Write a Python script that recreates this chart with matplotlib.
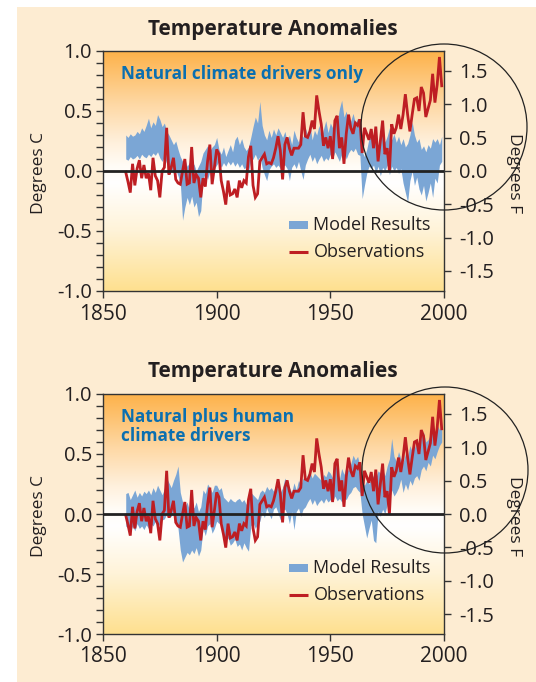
import numpy as np
import matplotlib
matplotlib.use('Agg')
import matplotlib.pyplot as plt
from matplotlib.colors import LinearSegmentedColormap
from matplotlib.patches import Rectangle, Circle
from matplotlib.ticker import MultipleLocator, FormatStrFormatter

# ---------------- data ----------------
years = np.arange(1860, 2000)

observations = [
    -0.01, -0.09, -0.18, 0.06, -0.12, 0.02, 0.09, -0.06, 0.05, -0.06,
    -0.02, -0.16, 0.11, -0.04, -0.08, -0.22, 0.00, 0.03, 0.36, -0.03,
    0.03, 0.11, -0.07, -0.10, -0.11, 0.00, 0.10, -0.11, -0.10, 0.20,
    -0.10, -0.03, -0.06, -0.22, -0.06, -0.13, 0.08, 0.22, -0.11, 0.03,
    0.18, 0.14, -0.08, -0.17, -0.28, -0.08, -0.20, -0.19, -0.15, -0.22,
    -0.08, -0.14, -0.08, -0.10, 0.12, 0.21, -0.12, -0.22, -0.19, 0.08,
    0.11, 0.14, 0.06, 0.07, 0.06, 0.11, 0.19, 0.29, 0.17, -0.07,
    0.22, 0.28, 0.19, 0.13, 0.19, 0.19, 0.19, 0.22, 0.49, 0.29,
    0.28, 0.33, 0.42, 0.35, 0.63, 0.50, 0.39, 0.21, 0.28, 0.19,
    0.29, 0.10, 0.42, 0.46, 0.19, 0.28, 0.06, 0.31, 0.47, 0.36,
    0.31, 0.40, 0.38, 0.43, 0.15, 0.36, 0.31, 0.26, 0.35, 0.19,
    0.37, 0.08, 0.25, 0.42, 0.14, 0.19, 0.00, 0.39, 0.31, 0.36,
    0.47, 0.35, 0.47, 0.64, 0.47, 0.33, 0.47, 0.60, 0.61, 0.50,
    0.70, 0.65, 0.45, 0.52, 0.59, 0.81, 0.57, 0.72, 0.95, 0.71,
]

natural_hi = [
    0.30, 0.28, 0.31, 0.29, 0.30, 0.33, 0.31, 0.36, 0.33, 0.38,
    0.44, 0.36, 0.41, 0.38, 0.47, 0.43, 0.37, 0.40, 0.33, 0.30,
    0.26, 0.22, 0.25, 0.18, 0.12, 0.08, 0.10, 0.04, 0.07, 0.02,
    0.06, 0.00, 0.04, 0.08, 0.15, 0.18, 0.21, 0.17, 0.20, 0.22,
    0.28, 0.18, 0.14, 0.20, 0.12, 0.17, 0.22, 0.16, 0.26, 0.29,
    0.22, 0.27, 0.20, 0.17, 0.20, 0.28, 0.37, 0.45, 0.40, 0.58,
    0.38, 0.30, 0.26, 0.34, 0.28, 0.35, 0.30, 0.36, 0.32, 0.28,
    0.33, 0.25, 0.30, 0.22, 0.34, 0.28, 0.24, 0.32, 0.28, 0.36,
    0.30, 0.39, 0.26, 0.34, 0.30, 0.38, 0.28, 0.35, 0.42, 0.32,
    0.40, 0.36, 0.46, 0.40, 0.52, 0.59, 0.45, 0.50, 0.38, 0.42,
    0.48, 0.40, 0.44, 0.36, 0.16, 0.12, 0.18, 0.27, 0.33, 0.22,
    0.30, 0.19, 0.27, 0.33, 0.24, 0.29, 0.36, 0.26, 0.31, 0.24,
    0.29, 0.22, 0.27, 0.20, 0.23, 0.30, 0.41, 0.30, 0.24, 0.27,
    0.18, 0.21, 0.16, 0.22, 0.19, 0.27, 0.24, 0.27, 0.22, 0.29,
]

natural_lo = [
    0.10, 0.09, 0.12, 0.10, 0.11, 0.13, 0.10, 0.14, 0.12, 0.11,
    0.14, 0.12, 0.15, 0.13, 0.16, 0.11, 0.08, 0.12, 0.06, 0.04,
    0.02, -0.02, 0.01, -0.04, -0.10, -0.41, -0.30, -0.22, -0.28, -0.21,
    -0.30, -0.26, -0.38, -0.33, -0.06, -0.02, -0.07, 0.00, -0.05, 0.02,
    0.05, 0.08, 0.03, 0.07, 0.04, 0.08, 0.05, 0.08, 0.04, 0.07,
    0.03, 0.06, 0.02, 0.03, 0.00, 0.08, 0.10, 0.14, 0.09, 0.12,
    0.03, -0.03, -0.08, 0.01, 0.04, 0.06, 0.03, 0.05, 0.02, 0.04,
    0.05, 0.02, -0.08, 0.03, 0.06, 0.02, 0.08, 0.00, -0.07, 0.05,
    0.10, 0.14, 0.08, 0.12, 0.06, 0.10, 0.13, 0.08, 0.11, 0.09,
    0.14, 0.10, 0.16, 0.12, 0.08, 0.14, 0.16, 0.10, 0.15, 0.18,
    0.16, 0.19, 0.14, 0.13, -0.23, -0.12, -0.02, 0.04, 0.02, 0.05,
    -0.02, 0.04, -0.04, 0.03, 0.00, 0.05, -0.03, 0.04, 0.00, 0.03,
    -0.02, 0.02, -0.10, -0.18, -0.26, -0.08, 0.00, -0.12, -0.05, -0.15,
    -0.20, -0.12, -0.25, -0.18, -0.10, -0.22, -0.06, -0.10, 0.05, 0.08,
]

combined_hi = [
    0.17, 0.18, 0.12, 0.16, 0.20, 0.14, 0.18, 0.15, 0.19, 0.17,
    0.20, 0.16, 0.22, 0.18, 0.24, 0.20, 0.16, 0.21, 0.30, 0.26,
    0.22, 0.28, 0.33, 0.40, 0.18, 0.10, 0.06, 0.10, 0.03, 0.08,
    0.05, 0.10, 0.02, 0.06, 0.20, 0.17, 0.25, 0.22, 0.18, 0.24,
    0.24, 0.20, 0.22, 0.14, 0.12, 0.10, 0.13, 0.11, 0.10, 0.12,
    0.13, 0.10, 0.12, 0.08, 0.15, 0.18, 0.16, 0.14, 0.12, 0.18,
    0.20, 0.18, 0.23, 0.20, 0.22, 0.19, 0.24, 0.21, 0.18, 0.22,
    0.30, 0.24, 0.22, 0.18, 0.26, 0.20, 0.28, 0.24, 0.30, 0.28,
    0.33, 0.35, 0.30, 0.34, 0.32, 0.30, 0.28, 0.33, 0.31, 0.36,
    0.34, 0.30, 0.43, 0.36, 0.29, 0.38, 0.33, 0.40, 0.36, 0.42,
    0.49, 0.45, 0.48, 0.40, 0.26, 0.24, 0.28, 0.25, 0.30, 0.32,
    0.30, 0.36, 0.34, 0.37, 0.32, 0.40, 0.46, 0.63, 0.48, 0.44,
    0.52, 0.46, 0.43, 0.50, 0.48, 0.57, 0.52, 0.55, 0.60, 0.57,
    0.64, 0.68, 0.60, 0.62, 0.66, 0.72, 0.68, 0.74, 0.70, 0.76,
]

combined_lo = [
    -0.10, -0.12, -0.15, -0.10, -0.14, -0.08, -0.12, -0.10, -0.13, -0.09,
    -0.12, -0.08, -0.10, -0.06, -0.11, -0.08, -0.05, -0.04, 0.00, -0.03,
    -0.02, 0.02, -0.05, -0.12, -0.30, -0.40, -0.36, -0.32, -0.34, -0.30,
    -0.33, -0.28, -0.35, -0.30, -0.12, -0.18, -0.10, -0.08, -0.16, -0.12,
    -0.06, -0.08, -0.05, -0.18, -0.22, -0.20, -0.26, -0.24, -0.21, -0.27,
    -0.25, -0.30, -0.24, -0.28, -0.31, -0.10, -0.07, -0.12, -0.08, -0.06,
    0.02, -0.03, 0.05, 0.00, -0.04, 0.04, 0.06, 0.01, -0.05, 0.03,
    0.04, 0.00, -0.08, 0.02, -0.13, 0.02, 0.05, -0.02, 0.04, 0.06,
    0.10, 0.13, 0.08, 0.12, 0.07, 0.10, 0.12, 0.09, 0.13, 0.10,
    0.12, 0.10, 0.15, 0.11, 0.13, 0.10, 0.14, 0.12, 0.16, 0.18,
    0.22, 0.23, 0.20, 0.18, 0.00, -0.10, -0.20, -0.12, -0.05, -0.22,
    -0.24, 0.02, -0.02, 0.04, 0.00, 0.08, 0.12, 0.20, 0.15, 0.18,
    0.22, 0.29, 0.18, 0.25, 0.20, 0.28, 0.24, 0.30, 0.32, 0.28,
    0.37, 0.40, 0.36, 0.43, 0.40, 0.49, 0.46, 0.52, 0.57, 0.60,
]

title_text = "Temperature Anomalies"
panel_labels = ["Natural climate drivers only", "Natural plus human\nclimate drivers"]
legend_labels = ["Model Results", "Observations"]
x_ticks = [1850, 1900, 1950, 2000]
c_ticks = [-1.0, -0.5, 0.0, 0.5, 1.0]
f_ticks = [-1.5, -1.0, -0.5, 0.0, 0.5, 1.0, 1.5]

# ---------------- style ----------------
plt.rcParams['font.family'] = ['Open Sans', 'DejaVu Sans']
plt.rcParams['axes.unicode_minus'] = False

W, H = 536, 682
BLUE = '#7ba6d5'
RED = '#be1e23'
TXT = '#231f20'
LABEL_BLUE = '#0b6fb0'
SPINE = '#333333'

fig = plt.figure(figsize=(W / 100, H / 100), dpi=100)
fig.patch.set_facecolor('white')
fig.add_artist(Rectangle((17 / W, 0), 1 - 17 / W, 1 - 7 / H, transform=fig.transFigure,
                         facecolor='#fdecd2', edgecolor='none', zorder=-10))

cmap = LinearSegmentedColormap.from_list('bg', [
    (0.00, '#fee08f'), (0.25, '#fff3d8'), (0.45, '#ffffff'), (0.52, '#fffcf6'),
    (0.62, '#fff0dc'), (0.78, '#fed8a4'), (1.00, '#fdb24a')])
grad = np.linspace(0, 1, 256).reshape(-1, 1)


def c_to_f(c):
    return c * 1.8


def draw_panel(top_px, lo, hi, label, title_y, circle_xy):
    ax = fig.add_axes([103 / W, 1 - (top_px + 240) / H, 341 / W, 240 / H])
    ax.imshow(grad, extent=[1850, 2000, -1, 1], aspect='auto', cmap=cmap,
              origin='lower', zorder=0, interpolation='bicubic')
    ax.fill_between(years, lo, hi, color=BLUE, lw=0, zorder=2)
    ax.plot(years, observations, color=RED, lw=2.0, zorder=4, solid_joinstyle='miter')
    ax.axhline(0, color='#222222', lw=2.0, zorder=5)
    ax.set_xlim(1850, 2000)
    ax.set_ylim(-1, 1)

    ax.set_xticks(x_ticks)
    ax.set_yticks(c_ticks)
    ax.yaxis.set_minor_locator(MultipleLocator(0.1))
    ax.yaxis.set_major_formatter(FormatStrFormatter('%.1f'))
    ax.tick_params(axis='y', which='both', direction='out', length=5, width=1,
                   color=SPINE, labelsize=14.5, pad=3, labelcolor=TXT)
    ax.tick_params(axis='x', direction='out', length=5, width=1, color=SPINE,
                   labelsize=15, pad=4, labelcolor=TXT)
    for s in ax.spines.values():
        s.set_color(SPINE)
        s.set_linewidth(1.0)

    ax2 = ax.twinx()
    ax2.set_ylim(c_to_f(-1), c_to_f(1))
    ax2.set_yticks(f_ticks)
    ax2.yaxis.set_major_formatter(FormatStrFormatter('%.1f'))
    ax2.tick_params(axis='y', direction='out', length=5, width=1, color=SPINE,
                    labelsize=14.5, pad=6, labelcolor=TXT)
    for s in ax2.spines.values():
        s.set_visible(False)

    ax.text(0.052, 0.94, label, transform=ax.transAxes, ha='left', va='top',
            fontsize=12.4, fontweight='bold', color=LABEL_BLUE, linespacing=1.05)

    # legend
    ax.add_patch(Rectangle((0.545, 0.275 - 0.018), 0.055, 0.036, transform=ax.transAxes,
                           facecolor=BLUE, edgecolor='none', zorder=6))
    ax.plot([0.545, 0.600], [0.1625, 0.1625], transform=ax.transAxes, color=RED,
            lw=2.2, zorder=6, solid_capstyle='butt')
    ax.text(0.617, 0.275, legend_labels[0], transform=ax.transAxes, va='center',
            ha='left', fontsize=13, color=TXT, zorder=6)
    ax.text(0.617, 0.1625, legend_labels[1], transform=ax.transAxes, va='center',
            ha='left', fontsize=13, color=TXT, zorder=6)

    cy = (top_px + 120)
    fig.text(39 / W, 1 - (cy + 2) / H, 'Degrees C', rotation=90, ha='center',
             va='center', fontsize=12.5, color=TXT)
    fig.text(514 / W, 1 - (cy + 2) / H, 'Degrees F', rotation=-90, ha='center',
             va='center', fontsize=12.5, color=TXT)
    fig.text(273 / W, 1 - title_y / H, title_text, ha='center', va='center',
             fontsize=15, fontweight='bold', color=TXT)

    fig.add_artist(Circle((circle_xy[0] / 100, (H - circle_xy[1]) / 100), 0.83,
                          transform=fig.dpi_scale_trans, fill=False, lw=0.9,
                          edgecolor='#222222', zorder=20))
    return ax


draw_panel(51, natural_lo, natural_hi, panel_labels[0], 30, (444, 127))
draw_panel(394, combined_lo, combined_hi, panel_labels[1], 372, (445, 470))

fig.savefig('out.png', dpi=100, facecolor=fig.get_facecolor())
